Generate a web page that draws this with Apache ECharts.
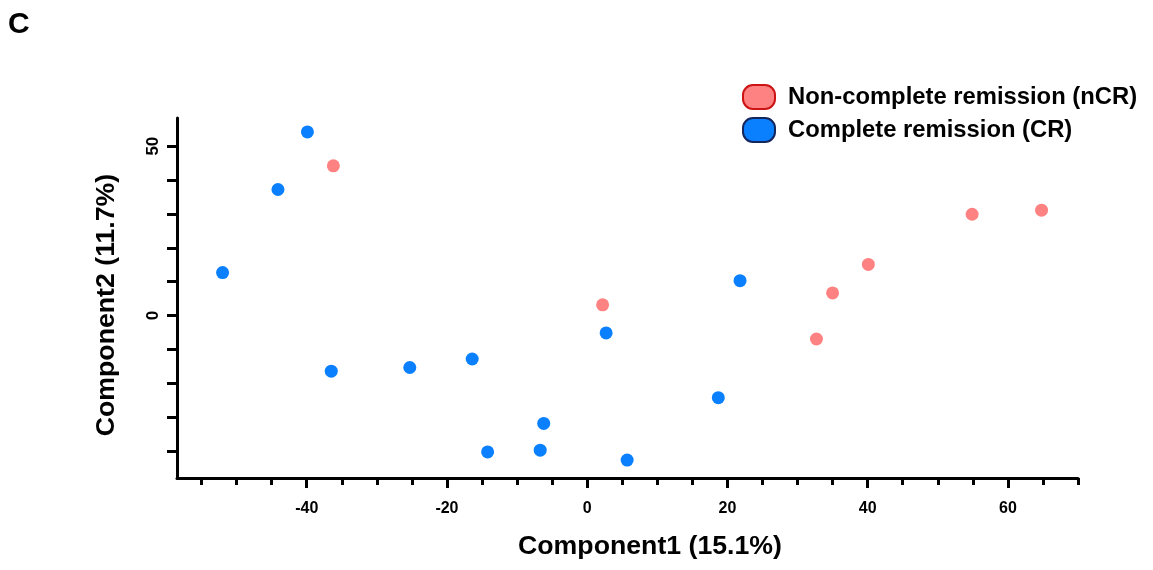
<!DOCTYPE html>
<html>
<head>
<meta charset="utf-8">
<script src="https://cdn.jsdelivr.net/npm/echarts@6/dist/echarts.min.js"></script>
<style>
html,body{margin:0;padding:0;background:#fff;}
#chart{width:1153px;height:570px;}
</style>
</head>
<body>
<div id="chart"></div>
<script>
// ---- data ----
const seriesNames = ['Non-complete remission (nCR)', 'Complete remission (CR)'];
const nCR_x = [-36.2, 2.2, 32.7, 35.0, 40.1, 54.9, 64.8];
const nCR_y = [44.2, 3.2, -6.9, 6.7, 15.1, 29.9, 31.1];
const CR_x = [-39.9, -44.1, -52.0, -36.5, -25.3, -16.4, -14.2, -6.7, -6.2, 2.7, 5.7, 18.7, 21.8];
const CR_y = [54.2, 37.2, 12.7, -16.4, -15.3, -12.8, -40.2, -39.7, -31.8, -5.1, -42.6, -24.2, 10.3];
const xMinorTicks = [-55,-50,-45,-40,-35,-30,-25,-20,-15,-10,-5,0,5,10,15,20,25,30,35,40,45,50,55,60,65,70];
const xMajorTicks = [-40,-20,0,20,40,60];
const xLabels = [-40,-20,0,20,40,60];
const yTicks = [-40,-30,-20,-10,0,10,20,30,40,50];
const yLabels = [0,50];
const xTitle = 'Component1 (15.1%)';
const yTitle = 'Component2 (11.7%)';
const panelLabel = 'C';

const FONT = '"Liberation Sans", Arial, Helvetica, sans-serif';
const pill = 'path://M10,0 H22 A10,10 0 0 1 32,10 V14 A10,10 0 0 1 22,24 H10 A10,10 0 0 1 0,14 V10 A10,10 0 0 1 10,0 Z';

const zip = (xs, ys) => xs.map((v, i) => [v, ys[i]]);

const chart = echarts.init(document.getElementById('chart'), null, {renderer: 'canvas'});
chart.setOption({
  animation: false,
  backgroundColor: '#ffffff',
  grid: {left: 177, top: 118, width: 901, height: 360, containLabel: false},
  legend: {
    orient: 'vertical',
    left: 742, top: 84, padding: 0,
    itemWidth: 32, itemHeight: 24, itemGap: 7,
    icon: pill,
    textStyle: {fontFamily: FONT, fontWeight: 'bold', fontSize: 23.8, color: '#000', padding: [2,0,0,8]},
    data: [
      {name: seriesNames[0], itemStyle: {color: '#fe8282', borderColor: '#cc1414', borderWidth: 2, opacity: 1}},
      {name: seriesNames[1], itemStyle: {color: '#0a80ff', borderColor: '#14265e', borderWidth: 2, opacity: 1}}
    ]
  },
  graphic: [
    {type: 'text', left: 8, top: 10, style: {text: panelLabel, font: 'bold 30px ' + FONT, fill: '#000'}},
    {type: 'text', x: 650, y: 547, style: {text: xTitle, font: 'bold 26.7px ' + FONT, fill: '#000', align: 'center', verticalAlign: 'middle'}},
    {type: 'text', x: 107, y: 305, rotation: Math.PI / 2, style: {text: yTitle, font: 'bold 26.7px ' + FONT, fill: '#000', align: 'center', verticalAlign: 'middle'}}
  ],
  xAxis: [
    {
      type: 'value', min: -58.5, max: 70, position: 'bottom',
      splitLine: {show: false},
      axisLine: {show: true, onZero: false, lineStyle: {color: '#000', width: 3}},
      axisTick: {show: true, customValues: xMinorTicks, length: 7, lineStyle: {color: '#000', width: 3}},
      axisLabel: {show: true, customValues: xLabels, margin: 23, fontFamily: FONT, fontWeight: 'bold', fontSize: 16, color: '#000'}
    },
    {
      type: 'value', min: -58.5, max: 70, position: 'bottom', gridIndex: 0,
      splitLine: {show: false},
      axisLine: {show: false, onZero: false},
      axisTick: {show: true, customValues: xMajorTicks, length: 10, lineStyle: {color: '#000', width: 3}},
      axisLabel: {show: false}
    }
  ],
  yAxis: {
    type: 'value', min: -47.9, max: 58.3,
    splitLine: {show: false},
    axisLine: {show: true, onZero: false, lineStyle: {color: '#000', width: 3}},
    axisTick: {show: true, customValues: yTicks, length: 10, lineStyle: {color: '#000', width: 3}},
    axisLabel: {show: true, customValues: yLabels, rotate: 90, margin: 15, fontFamily: FONT, fontWeight: 'bold', fontSize: 17, color: '#000'}
  },
  series: [
    {name: seriesNames[0], type: 'scatter', symbol: 'circle', symbolSize: 13,
     itemStyle: {color: '#fe8282', opacity: 1}, data: zip(nCR_x, nCR_y)},
    {name: seriesNames[1], type: 'scatter', symbol: 'circle', symbolSize: 13,
     itemStyle: {color: '#0a80ff', opacity: 1}, data: zip(CR_x, CR_y)}
  ]
});
</script>
</body>
</html>
